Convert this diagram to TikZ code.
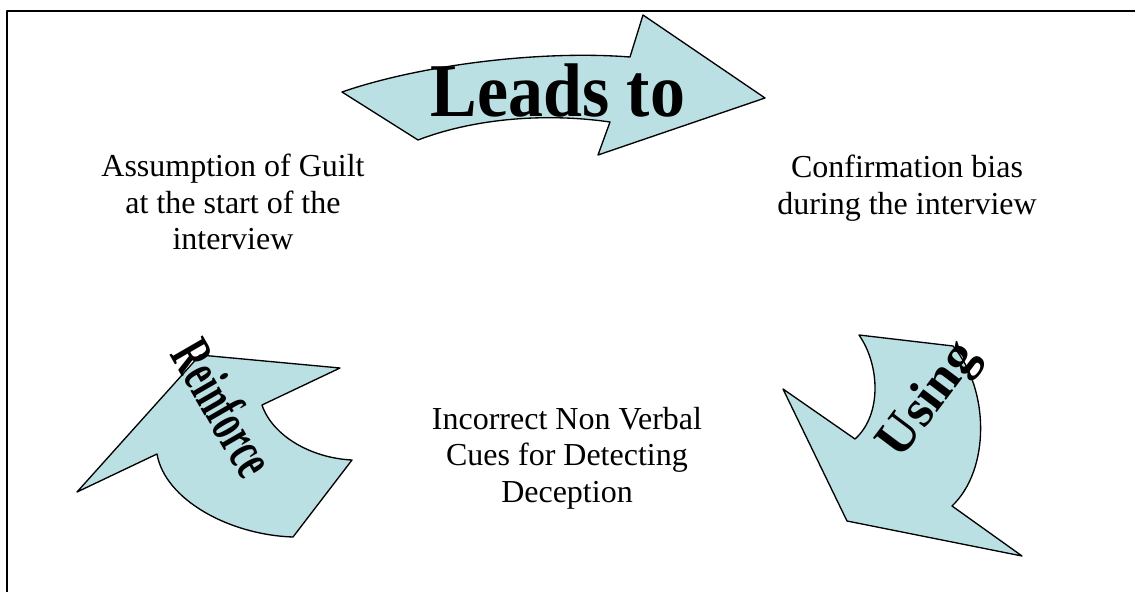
\documentclass[tikz,border=0pt]{standalone}
\usepackage{fontspec}
\setmainfont{Liberation Serif}
\definecolor{arrowfill}{HTML}{BBE0E3}
\tikzset{
	bentarrow/.style={fill=arrowfill, draw=black, line width=1pt},
	steptext/.style={align=center, font=\fontsize{24}{27.5}\selectfont},
	wordart/.style={inner sep=0pt}
}
\begin{document}
\begin{tikzpicture}[x=0.75pt, y=-0.75pt, line join=round, line cap=round]
	\useasboundingbox (0,0) rectangle (1135,592);
	\draw[line width=1.5pt] (7,592)--(7,11)--(1135,11); % khung
	% mui ten tren
	\draw[bentarrow] (342,92) .. controls (420,65) and (540,50) .. (630,57)
	-- (643,15) -- (765,98) -- (598,155) -- (610,122)
	.. controls (540,112) and (470,120) .. (418,140) -- cycle;
	% mui ten phai
	\draw[bentarrow] (859,335) -- (953,346)
	.. controls (990,390) and (990,470) .. (952,506)
	-- (1022,556) -- (847,521) -- (783,389) -- (855,439)
	.. controls (882,415) and (880,365) .. (859,335) -- cycle;
	% mui ten trai
	\draw[bentarrow] (77,492) -- (200,355) -- (340,368) -- (262,405)
	.. controls (272,435) and (310,458) .. (352,460)
	-- (293,537) .. controls (230,535) and (165,500) .. (157,454) -- cycle;
	\path 
	(558,116) node[wordart, anchor=base, font=\bfseries\fontsize{57}{57}\selectfont, xscale=0.92] (leads) {Leads to}
	(930,401) node[wordart, rotate=53, font=\bfseries\fontsize{40}{40}\selectfont] (using) {Using}
	(224,408) node[wordart, rotate=-60, xscale=0.6, font=\bfseries\fontsize{44}{44}\selectfont] (reinf) {Reinforce}
	(233,202) node[steptext] (guilt) {Assumption of Guilt\\at the start of the\\interview}
	(907,188) node[steptext] (bias) {Confirmation bias\\during the interview}
	(567,458) node[steptext] (cues) {Incorrect Non Verbal\\Cues for Detecting\\Deception};
\end{tikzpicture}
\end{document}
